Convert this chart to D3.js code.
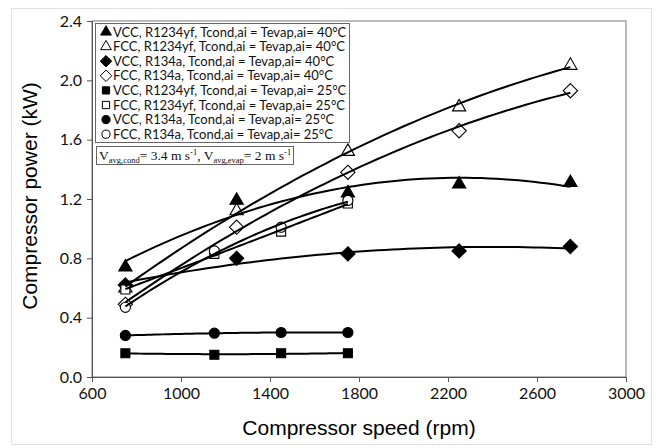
<!DOCTYPE html>
<html>
<head>
<meta charset="utf-8">
<script src="https://cdn.jsdelivr.net/npm/d3@7"></script>
<style>
body { margin: 0; background: #fff; }
</style>
</head>
<body>
<script>
// speeds (rpm)
var speed40 = [750, 1250, 1750, 2250, 2750];
var speed25 = [750, 1150, 1450, 1750];

// compressor power (kW)
var vccR1234yf40 = [0.74, 1.19, 1.24, 1.30, 1.31];
var fccR1234yf40 = [0.60, 1.12, 1.52, 1.82, 2.10];
var vccR134a40 = [0.62, 0.80, 0.83, 0.85, 0.88];
var fccR134a40 = [0.49, 1.01, 1.38, 1.66, 1.93];
var vccR1234yf25 = [0.16, 0.15, 0.16, 0.16];
var fccR1234yf25 = [0.59, 0.83, 0.98, 1.17];
var vccR134a25 = [0.28, 0.295, 0.30, 0.30];
var fccR134a25 = [0.47, 0.85, 1.01, 1.19];

var xTicks = [600, 1000, 1400, 1800, 2200, 2600, 3000];
var yTicks = [0.0, 0.4, 0.8, 1.2, 1.6, 2.0, 2.4];

var legendLabels = [
    "VCC, R1234yf, Tcond,ai = Tevap,ai= 40°C",
    "FCC, R1234yf, Tcond,ai = Tevap,ai= 40°C",
    "VCC, R134a, Tcond,ai = Tevap,ai= 40°C",
    "FCC, R134a, Tcond,ai = Tevap,ai= 40°C",
    "VCC, R1234yf, Tcond,ai = Tevap,ai= 25°C",
    "FCC, R1234yf, Tcond,ai = Tevap,ai= 25°C",
    "VCC, R134a, Tcond,ai = Tevap,ai= 25°C",
    "FCC, R134a, Tcond,ai = Tevap,ai= 25°C"
];

var series = [
    {x: speed40, y: vccR1234yf40, shape: "triangle", filled: true},
    {x: speed40, y: fccR1234yf40, shape: "triangle", filled: false},
    {x: speed40, y: vccR134a40, shape: "diamond", filled: true},
    {x: speed40, y: fccR134a40, shape: "diamond", filled: false},
    {x: speed25, y: vccR1234yf25, shape: "square", filled: true},
    {x: speed25, y: fccR1234yf25, shape: "square", filled: false},
    {x: speed25, y: vccR134a25, shape: "circle", filled: true},
    {x: speed25, y: fccR134a25, shape: "circle", filled: false}
];

var width = 661, height = 448;
var svg = d3.select("body").append("svg")
    .attr("width", width)
    .attr("height", height);

// light outer frame of the picture
svg.append("rect")
    .attr("x", 11.5).attr("y", 8.5)
    .attr("width", 640).attr("height", 436)
    .style("fill", "none")
    .style("stroke", "#e2e2e2");

var x = d3.scaleLinear().domain([600, 3000]).range([92, 626]);
var y = d3.scaleLinear().domain([0, 2.4]).range([377, 21]);

// plot frame
svg.append("rect")
    .attr("x", x(600)).attr("y", y(2.4))
    .attr("width", x(3000) - x(600)).attr("height", y(0) - y(2.4))
    .style("fill", "none")
    .style("stroke", "#777")
    .style("stroke-width", 1);

var xAxis = svg.append("g")
    .attr("transform", "translate(0," + y(0) + ")")
    .call(d3.axisBottom(x).tickValues(xTicks).tickSize(5).tickPadding(6).tickFormat(d3.format("d")));

var yAxis = svg.append("g")
    .attr("transform", "translate(" + x(600) + ",0)")
    .call(d3.axisLeft(y).tickValues(yTicks).tickSize(5).tickPadding(5).tickFormat(d3.format(".1f")));

[xAxis, yAxis].forEach(function (g) {
    g.select(".domain").style("stroke", "#555");
    g.selectAll(".tick line").style("stroke", "#555");
    g.selectAll(".tick text")
        .style("font-family", "Lato, 'Open Sans', sans-serif")
        .style("font-size", "16px")
        .style("fill", "#111");
});

svg.append("text")
    .attr("x", (x(600) + x(3000)) / 2)
    .attr("y", 435)
    .style("text-anchor", "middle")
    .style("font-family", "'Liberation Sans', Arial, sans-serif")
    .style("font-size", "21px")
    .text("Compressor speed (rpm)");

svg.append("text")
    .attr("transform", "translate(37," + 196 + ") rotate(-90)")
    .style("text-anchor", "middle")
    .style("font-family", "'Liberation Sans', Arial, sans-serif")
    .style("font-size", "21px")
    .text("Compressor power (kW)");

function symbolPath(shape, s) {
    if (shape == "triangle") return d3.symbol().type(d3.symbolTriangle).size(s * 0.9)();
    if (shape == "square") return d3.symbol().type(d3.symbolSquare).size(s * 0.95)();
    if (shape == "circle") return d3.symbol().type(d3.symbolCircle).size(s * 0.95)();
    // square turned 45 degrees
    var r = Math.sqrt(s * 0.6);
    return "M0," + (-r) + "L" + r + ",0L0," + r + "L" + (-r) + ",0Z";
}

// least-squares quadratic, like a spreadsheet trendline
function quadFit(xs, ys) {
    var n = xs.length, S = [0, 0, 0, 0, 0], T = [0, 0, 0];
    for (var i = 0; i < n; i++) {
        var u = xs[i] / 1000;
        for (var k = 0; k < 5; k++) S[k] += Math.pow(u, k);
        for (var k = 0; k < 3; k++) T[k] += ys[i] * Math.pow(u, k);
    }
    var A = [[S[0], S[1], S[2], T[0]], [S[1], S[2], S[3], T[1]], [S[2], S[3], S[4], T[2]]];
    for (var c = 0; c < 3; c++) {
        for (var r = c + 1; r < 3; r++) {
            var f = A[r][c] / A[c][c];
            for (var j = c; j < 4; j++) A[r][j] -= f * A[c][j];
        }
    }
    var p = [0, 0, 0];
    for (var r = 2; r >= 0; r--) {
        var s = A[r][3];
        for (var j = r + 1; j < 3; j++) s -= A[r][j] * p[j];
        p[r] = s / A[r][r];
    }
    return function (v) { var u = v / 1000; return p[0] + p[1] * u + p[2] * u * u; };
}

var markers = svg.append("g");
series.forEach(function (s) {
    markers.selectAll(null)
        .data(s.x.map(function (d, i) { return [d, s.y[i]]; }))
        .enter().append("path")
        .attr("d", symbolPath(s.shape, 85))
        .attr("transform", function (d) { return "translate(" + x(d[0]) + "," + y(d[1]) + ")"; })
        .style("fill", s.filled ? "#000" : "#fff")
        .style("stroke", "#000")
        .style("stroke-width", 1.1);
});

var line = d3.line().x(function (d) { return x(d[0]); }).y(function (d) { return y(d[1]); });
var trends = svg.append("g");
series.forEach(function (s) {
    var f = quadFit(s.x, s.y);
    var lo = d3.min(s.x), hi = d3.max(s.x);
    var pts = d3.range(0, 61).map(function (i) { var v = lo + (hi - lo) * i / 60; return [v, f(v)]; });
    trends.append("path")
        .attr("d", line(pts))
        .style("fill", "none")
        .style("stroke", "#000")
        .style("stroke-width", 2);
});

// legend
var legend = svg.append("g");
legend.append("rect")
    .attr("x", 95.5).attr("y", 23.5)
    .attr("width", 254).attr("height", 119)
    .style("fill", "#fff")
    .style("stroke", "#666");

legendLabels.forEach(function (label, i) {
    var cy = 32 + i * 14.6;
    legend.append("path")
        .attr("d", symbolPath(series[i].shape, 55))
        .attr("transform", "translate(106," + cy + ")")
        .style("fill", series[i].filled ? "#000" : "#fff")
        .style("stroke", "#000")
        .style("stroke-width", 1);
    legend.append("text")
        .attr("x", 113)
        .attr("y", cy + 4.5)
        .style("font-family", "Lato, 'Open Sans', sans-serif")
        .style("font-size", "13px")
        .style("fill", "#111")
        .text(label);
});

// velocity note box
var note = svg.append("g");
note.append("rect")
    .attr("x", 96.5).attr("y", 146.5)
    .attr("width", 197).attr("height", 18)
    .style("fill", "#fff")
    .style("stroke", "#666");

var noteText = note.append("text")
    .attr("x", 99)
    .attr("y", 160)
    .style("font-family", "'Liberation Serif', 'Times New Roman', serif")
    .style("font-size", "13.5px")
    .style("fill", "#111");
noteText.append("tspan").text("V");
noteText.append("tspan").attr("dy", 3).style("font-size", "8.5px").text("avg,cond");
noteText.append("tspan").attr("dy", -3).text("= 3.4 m s");
noteText.append("tspan").attr("dy", -5).style("font-size", "8.5px").text("-1");
noteText.append("tspan").attr("dy", 5).text(", V");
noteText.append("tspan").attr("dy", 3).style("font-size", "8.5px").text("avg,evap");
noteText.append("tspan").attr("dy", -3).text("= 2 m s");
noteText.append("tspan").attr("dy", -5).style("font-size", "8.5px").text("-1");
</script>
</body>
</html>
